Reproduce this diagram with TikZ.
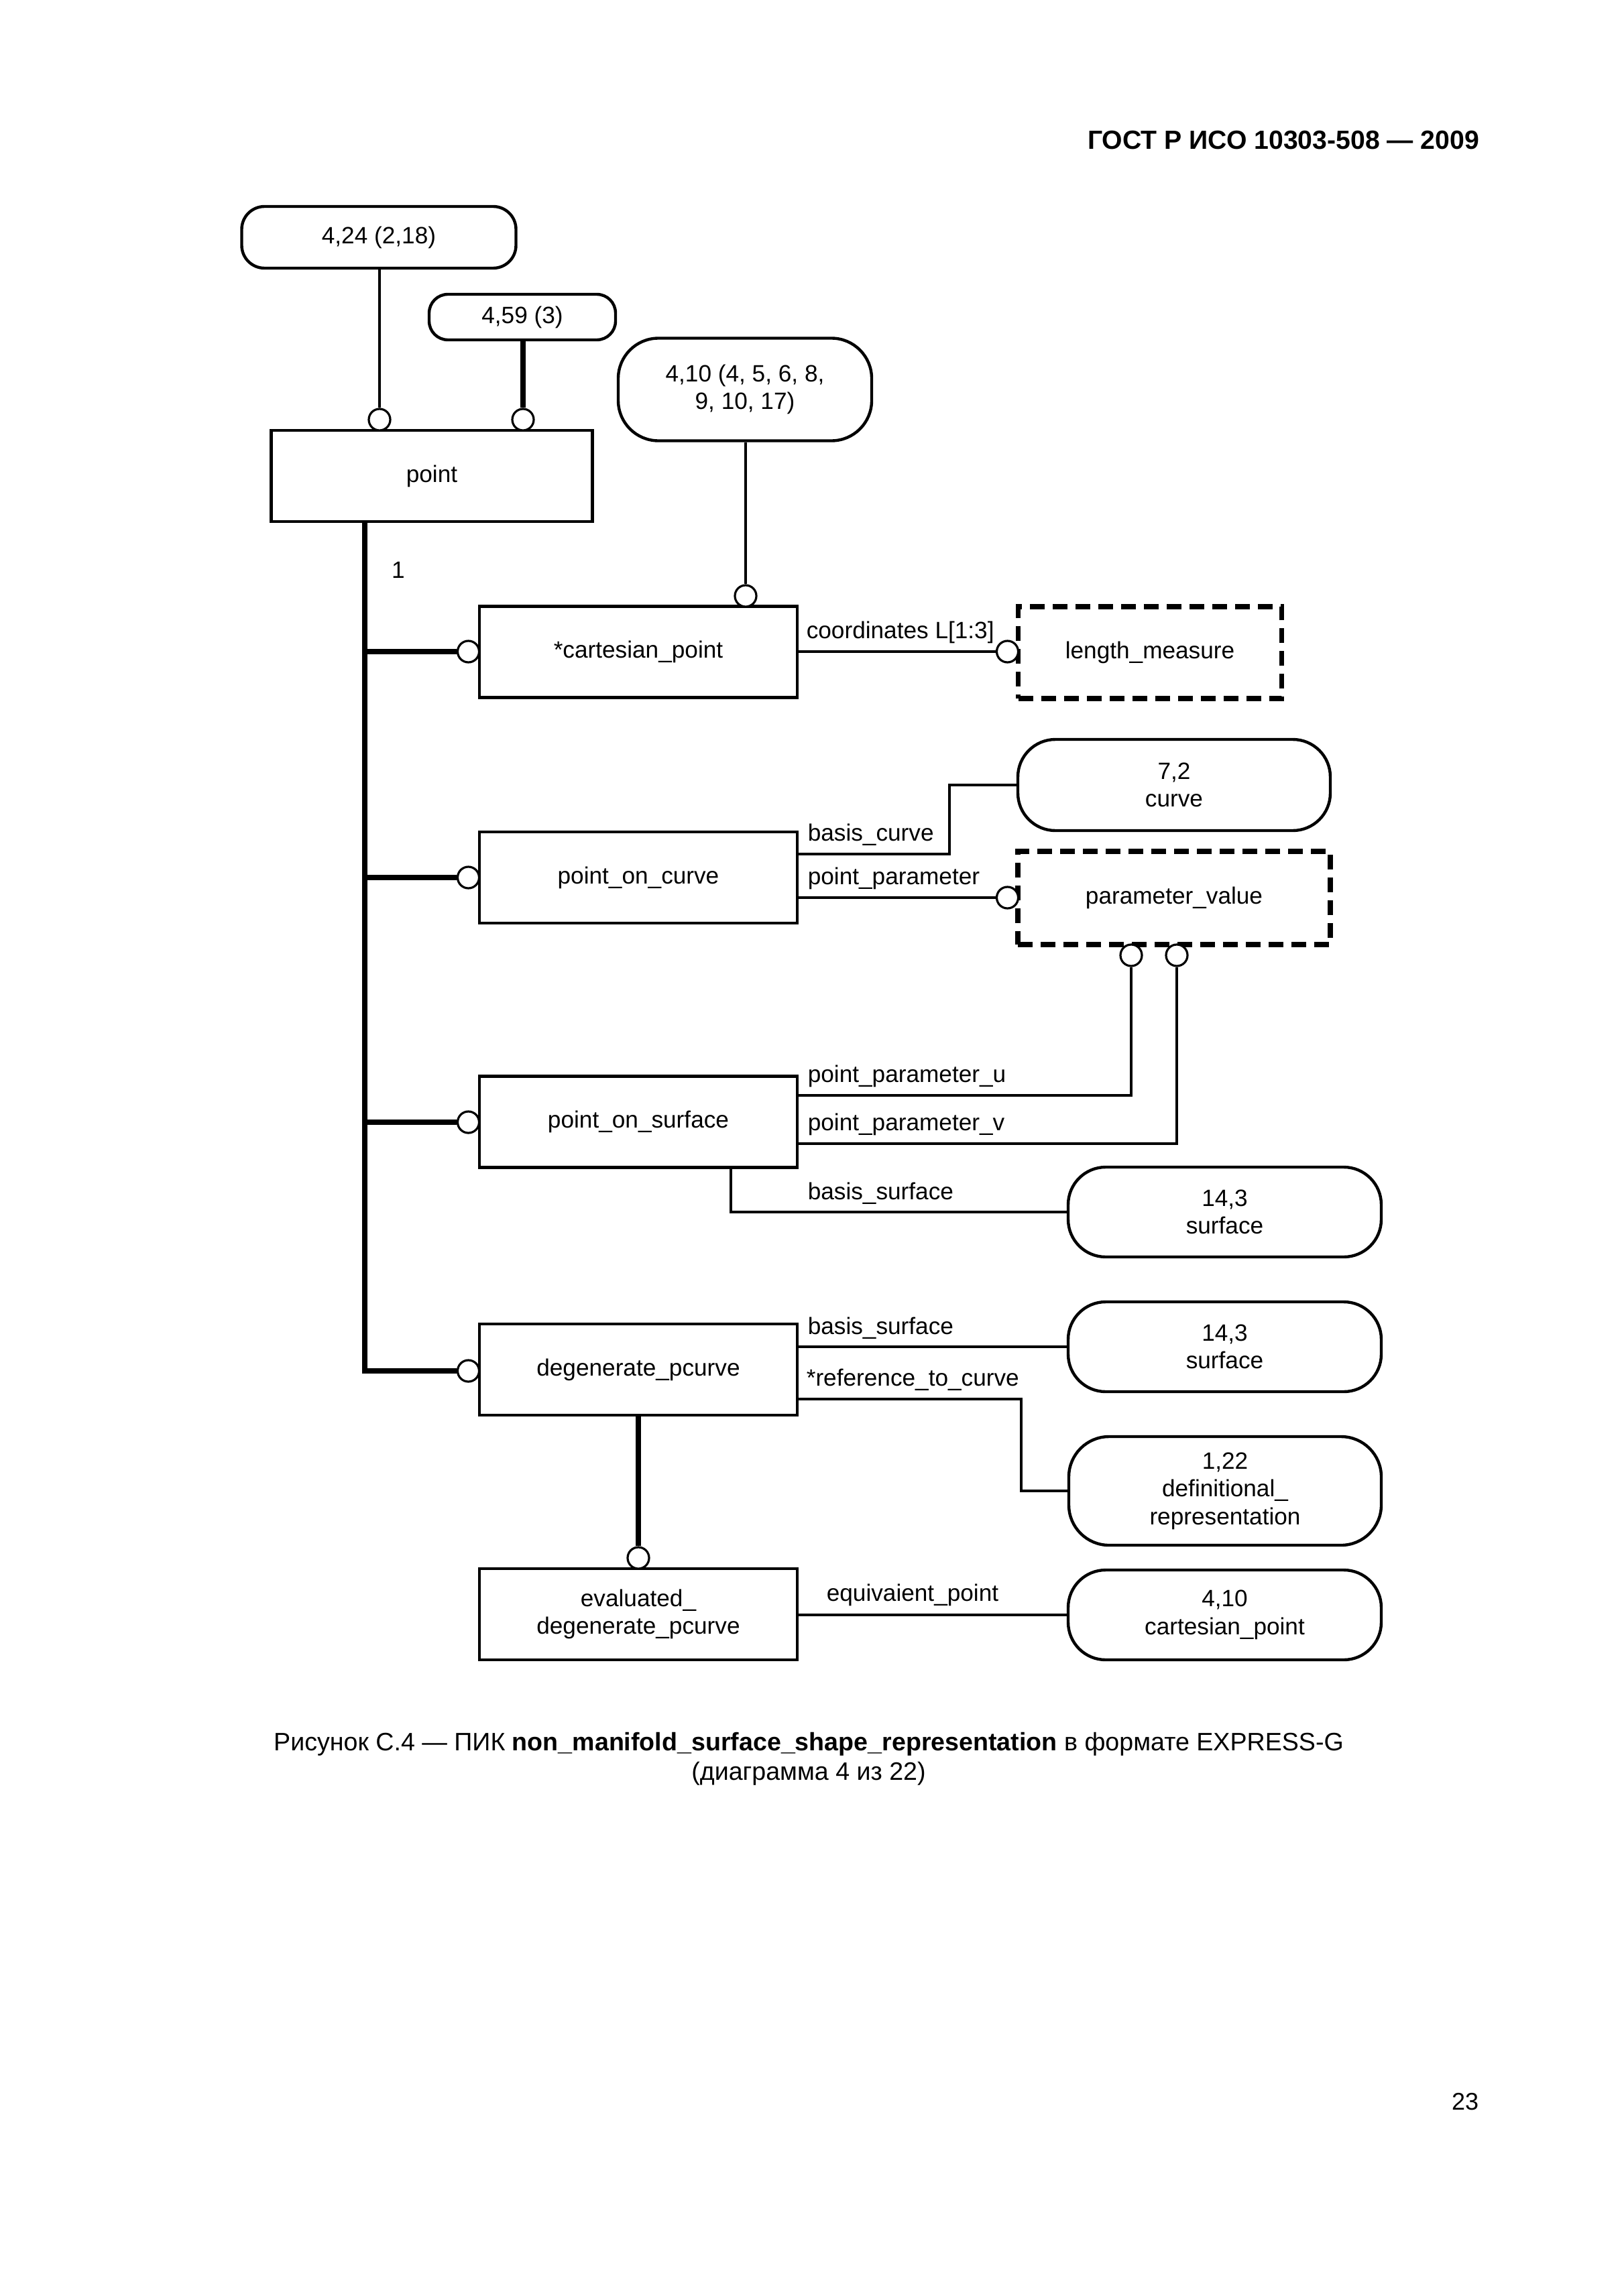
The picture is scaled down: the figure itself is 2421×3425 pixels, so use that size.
\documentclass[tikz,border=0pt]{standalone}
\usepackage{fontspec}
\setmainfont{Liberation Sans}
\begin{document}
\begin{tikzpicture}[x=0.25pt,y=-0.25pt,
 every node/.style={font=\fontsize{8.8}{10.4}\selectfont},
 ent/.style={draw,line width=1.2pt,minimum width=118.5pt,minimum height=34pt,inner sep=0pt,align=center},
 typ/.style={draw,line width=1.8pt,dash pattern=on 5.5pt off 3pt,inner sep=0pt,align=center},
 stad/.style={draw,line width=1.1pt,rounded corners=14pt,inner sep=0pt,align=center},
 circ/.style={circle,draw,fill=white,minimum size=8pt,inner sep=0pt,line width=0.8pt},
 ln/.style={line width=1pt},
 thk/.style={line width=1.9pt},
 lbl/.style={anchor=base west,inner sep=0pt}]
\useasboundingbox (0,0) rectangle (2421,3425);

% header and page number
\node[anchor=base east,inner sep=0pt,font=\fontsize{9.8}{12}\selectfont\bfseries] (hdr) at (2207,223) {ГОСТ Р ИСО 10303-508 — 2009};
\node[inner sep=0pt,font=\fontsize{9}{11}\selectfont] (pgno) at (2185,3135) {23};

% reference (page) nodes
\node[stad,rounded corners=8.5pt,minimum width=102.25pt,minimum height=23pt] (n424) at (565,354) {4,24 (2,18)};
\node[stad,rounded corners=7pt,minimum width=69.5pt,minimum height=17pt] (n459) at (779,473) {4,59 (3)};
\node[stad,rounded corners=15pt,minimum width=94.5pt,minimum height=38.25pt] (n410) at (1111,581) {4,10 (4, 5, 6, 8,\\9, 10, 17)};

% entities
\node[ent,minimum width=119.75pt] (point) at (644,710) {point};
\node[ent] (cart) at (952,972.5) {*cartesian\_point};
\node[ent] (poc) at (952,1309) {point\_on\_curve};
\node[ent] (pos) at (952,1673.5) {point\_on\_surface};
\node[ent] (dgp) at (952,2043) {degenerate\_pcurve};
\node[ent] (evd) at (952,2408) {evaluated\_\\degenerate\_pcurve};

% types
\node[typ,minimum width=98.25pt,minimum height=34.25pt] (lenm) at (1715,973.5) {length\_measure};
\node[typ,minimum width=116.5pt,minimum height=34.75pt] (parv) at (1751,1339.5) {parameter\_value};

% off-page references on the right
\node[stad,minimum width=116.5pt,minimum height=34pt] (curve72) at (1751,1171) {7,2\\curve};
\node[stad,minimum width=116.75pt,minimum height=33.5pt] (surf1) at (1826.5,1808) {14,3\\surface};
\node[stad,minimum width=116.75pt,minimum height=33.5pt] (surf2) at (1826.5,2009) {14,3\\surface};
\node[stad,rounded corners=15pt,minimum width=116.5pt,minimum height=40.5pt] (def122) at (1827,2224) {1,22\\definitional\_\\representation};
\node[stad,minimum width=116.75pt,minimum height=33.5pt] (cp410) at (1826.5,2409) {4,10\\cartesian\_point};

% circles
\node[circ] (c1) at (566,626) {};
\node[circ] (c2) at (780,626) {};
\node[circ] (c3) at (1112,889) {};
\node[circ] (c4) at (698.5,972) {};
\node[circ] (c5) at (1502.5,972) {};
\node[circ] (c6) at (698.5,1309) {};
\node[circ] (c7) at (1502.5,1339) {};
\node[circ] (c8) at (1687,1425) {};
\node[circ] (c9) at (1755,1425) {};
\node[circ] (c10) at (698.5,1674) {};
\node[circ] (c11) at (698.5,2045) {};
\node[circ] (c12) at (952,2324) {};

% helper coordinates
\coordinate (tr) at (544,778);
\coordinate (bc) at (1416,1274);
\coordinate (pu) at (1687,1634);
\coordinate (pv) at (1755,1706);
\coordinate (bs) at (1090,1809);
\coordinate (rc) at (1523,2087);

% connectors
\draw[ln] (n424.south -| c1) -- (c1.north);
\draw[thk] (n459.south -| c2) -- (c2.north);
\draw[ln] (n410.south -| c3) -- (c3.north);

\draw[thk] (tr) -- (tr |- c11) -- (c11.west);
\draw[thk] (tr |- c4) -- (c4.west);
\draw[thk] (tr |- c6) -- (c6.west);
\draw[thk] (tr |- c10) -- (c10.west);

\draw[ln] (cart.east |- c5) -- (c5.west);
\draw[ln] (poc.east |- bc) -- (bc) |- (curve72.west);
\draw[ln] (poc.east |- c7) -- (c7.west);
\draw[ln] (pos.east |- pu) -| (c8.south);
\draw[ln] (pos.east |- pv) -| (c9.south);
\draw[ln] (pos.south -| bs) |- (surf1.west);
\draw[ln] (dgp.east |- surf2.west) -- (surf2.west);
\draw[ln] (dgp.east |- rc) -- (rc) |- (def122.west);
\draw[thk] (dgp.south -| c12) -- (c12.north);
\draw[ln] (evd.east |- cp410.west) -- (cp410.west);

% labels
\node[inner sep=0pt] (one) at (594,850) {1};
\node[lbl] (l1) at (1202,952) {coordinates L[1:3]};
\node[lbl] (l2) at (1204,1254) {basis\_curve};
\node[lbl] (l3) at (1204,1319) {point\_parameter};
\node[lbl] (l4) at (1204,1614) {point\_parameter\_u};
\node[lbl] (l5) at (1204,1686) {point\_parameter\_v};
\node[lbl] (l6) at (1204,1789) {basis\_surface};
\node[lbl] (l7) at (1204,1990) {basis\_surface};
\node[lbl] (l8) at (1202,2067) {*reference\_to\_curve};
\node[lbl] (l9) at (1232,2388) {equivaient\_point};

% caption
\node[align=center,inner sep=0pt,font=\fontsize{9.4}{11}\selectfont] (cap) at (1206,2624)
 {Рисунок С.4 — ПИК \textbf{non\_manifold\_surface\_shape\_representation} в формате EXPRESS-G\\(диаграмма 4 из 22)};
\end{tikzpicture}
\end{document}
